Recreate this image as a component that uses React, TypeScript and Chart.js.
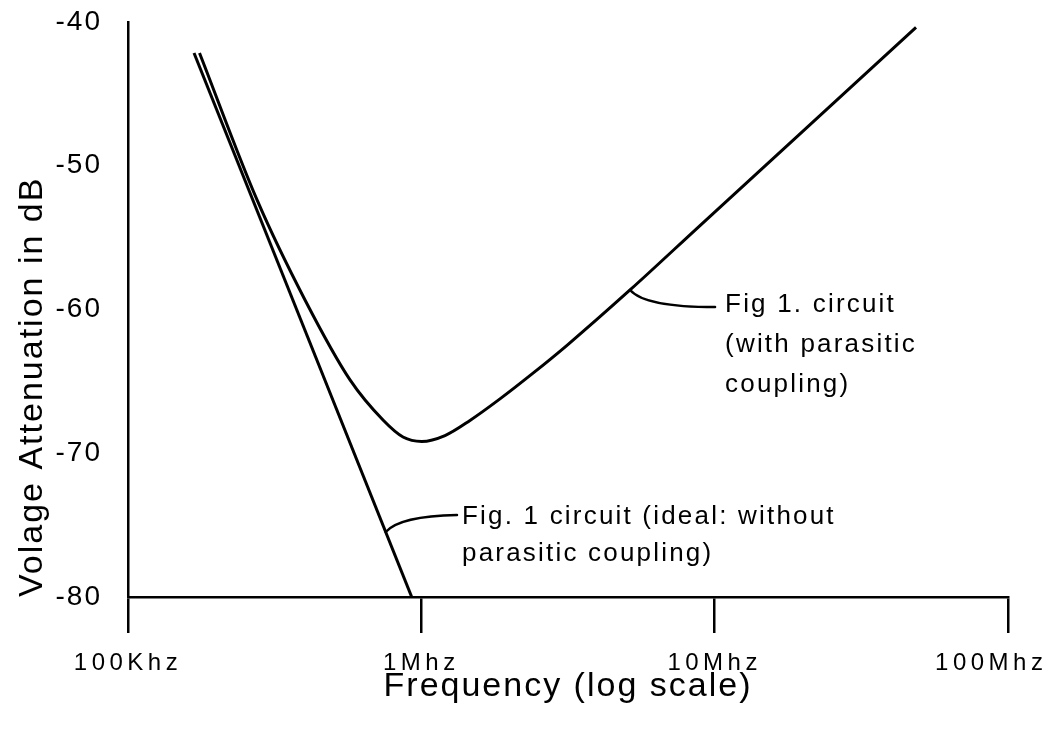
import { useEffect, useRef } from 'react';
import { Chart, registerables } from 'chart.js';

Chart.register(...registerables);

const FONT = '"Liberation Sans", Arial, Helvetica, sans-serif';

// Axis ticks
const xTickValues = [0.1, 1, 10, 100]; // MHz
const xTickLabels = ['100Khz', '1Mhz', '10Mhz', '100Mhz'];
const yMin = -80;
const yMax = -40;
const yStep = 10;

// Fig 1 circuit with parasitic coupling (frequency in MHz, attenuation in dB)
const parasiticFreqMHz = [0.1753, 0.2754, 0.4013, 0.5714, 0.7402, 0.866, 1.003, 1.204, 1.465, 1.854, 2.403, 3.138, 5.146, 8.913, 19.54, 48.58];
const parasiticDb = [-42.16, -52.38, -59.34, -64.9, -67.69, -68.87, -69.18, -68.77, -67.72, -66.22, -64.43, -62.49, -58.64, -54.16, -47.79, -40.37];

// Fig 1 circuit ideal (without parasitic coupling)
const idealFreqMHz = [0.1679, 0.9273];
const idealDb = [-42.16, -80];

// Annotation texts
const parasiticLabel = ['Fig 1. circuit', '(with parasitic', 'coupling)'];
const idealLabel = ['Fig. 1 circuit (ideal: without', 'parasitic coupling)'];

// Annotation placement (data coordinates: [MHz, dB])
const annotations = [
  {
    lines: parasiticLabel,
    anchor: [5.146, -58.64],
    control: [5.787, -59.83],
    end: [10.03, -59.83],
    text: [10.85, -59.69],
    gap: 40,
  },
  {
    lines: idealLabel,
    anchor: [0.756, -75.48],
    control: [0.846, -74.37],
    end: [1.323, -74.3],
    text: [1.376, -74.43],
    gap: 37,
  },
];

const spacingPlugin = {
  id: 'letterSpacing',
  beforeDraw(chart: any) {
    chart.ctx.letterSpacing = '2px'; // axis titles and y tick labels
  },
  afterDatasetsDraw(chart: any) {
    chart.ctx.letterSpacing = '4.5px'; // x tick labels (drawn on a later layer)
  },
  afterDraw(chart: any) {
    chart.ctx.letterSpacing = '0px';
  },
};

const annotationPlugin = {
  id: 'annotations',
  afterDraw(chart: any) {
    const { ctx, scales } = chart;
    const x = scales.x;
    const y = scales.y;
    ctx.save();
    ctx.strokeStyle = '#000';
    ctx.fillStyle = '#000';
    ctx.lineWidth = 2.5;
    ctx.lineCap = 'round';
    ctx.font = `26px ${FONT}`;
    ctx.letterSpacing = '2.2px';
    ctx.textBaseline = 'middle';
    ctx.textAlign = 'left';
    for (const a of annotations) {
      const ax = x.getPixelForValue(a.anchor[0]);
      const ay = y.getPixelForValue(a.anchor[1]);
      const cx = x.getPixelForValue(a.control[0]);
      const cy = y.getPixelForValue(a.control[1]);
      const ex = x.getPixelForValue(a.end[0]);
      const ey = y.getPixelForValue(a.end[1]);
      ctx.beginPath();
      ctx.moveTo(ax, ay);
      ctx.quadraticCurveTo(cx, cy, ex, ey);
      ctx.stroke();
      const tx = x.getPixelForValue(a.text[0]);
      const ty = y.getPixelForValue(a.text[1]);
      a.lines.forEach((line: string, i: number) => {
        ctx.fillText(line, tx, ty + i * a.gap);
      });
    }
    ctx.restore();
  },
};

export default function App() {
  const canvasRef = useRef<HTMLCanvasElement | null>(null);

  useEffect(() => {
    if (!canvasRef.current) return;
    const chart = new Chart(canvasRef.current, {
      type: 'scatter',
      data: {
        datasets: [
          {
            label: 'Fig 1. circuit (with parasitic coupling)',
            data: parasiticFreqMHz.map((f, i) => ({ x: f, y: parasiticDb[i] })),
            showLine: true,
            borderColor: '#000',
            borderWidth: 3,
            pointRadius: 0,
            cubicInterpolationMode: 'monotone',
          },
          {
            label: 'Fig. 1 circuit (ideal: without parasitic coupling)',
            data: idealFreqMHz.map((f, i) => ({ x: f, y: idealDb[i] })),
            showLine: true,
            borderColor: '#000',
            borderWidth: 3,
            pointRadius: 0,
          },
        ],
      },
      options: {
        animation: false,
        responsive: true,
        maintainAspectRatio: false,
        layout: { padding: { top: 22, right: 40, left: 0, bottom: 0 } },
        plugins: {
          legend: { display: false },
          tooltip: { enabled: false },
        },
        scales: {
          x: {
            type: 'logarithmic',
            min: 0.1,
            max: 100,
            afterBuildTicks: (scale: any) => {
              scale.ticks = xTickValues.map((v) => ({ value: v }));
            },
            afterFit: (scale: any) => {
              scale.height = 132;
              scale.paddingLeft = 0;
              scale.paddingRight = 0;
            },
            ticks: {
              z: 1,
              color: '#000',
              font: { family: FONT, size: 24 },
              padding: 16,
              maxRotation: 0,
              autoSkip: false,
              callback: (value: any) => {
                const idx = xTickValues.findIndex((v) => Math.abs(v - Number(value)) < 1e-9);
                if (idx < 0) return '';
                // the last label sits left of its tick so it stays inside the picture
                return idx === xTickLabels.length - 1 ? xTickLabels[idx] + '\u00a0\u00a0\u00a0' : xTickLabels[idx];
              },
            },
            grid: {
              drawOnChartArea: false,
              drawTicks: true,
              tickLength: 36,
              color: '#000',
              lineWidth: 2.5,
            },
            border: { display: true, color: '#000', width: 2.5 },
            title: {
              display: true,
              text: 'Frequency (log scale)',
              color: '#000',
              font: { family: FONT, size: 34 },
              padding: { top: 0, bottom: 22 },
            },
          },
          y: {
            type: 'linear',
            min: yMin,
            max: yMax,
            afterFit: (scale: any) => {
              scale.width = 128;
              scale.paddingTop = 0;
              scale.paddingBottom = 0;
            },
            ticks: {
              stepSize: yStep,
              color: '#000',
              font: { family: FONT, size: 28 },
              padding: 26,
            },
            grid: {
              drawOnChartArea: false,
              drawTicks: false,
            },
            border: { display: true, color: '#000', width: 2.5 },
            title: {
              display: true,
              text: 'Volage Attenuation in dB',
              align: 'start',
              color: '#000',
              font: { family: FONT, size: 34 },
              padding: { top: 12, bottom: 0 },
            },
          },
        },
      },
      plugins: [spacingPlugin, annotationPlugin],
    } as any);
    return () => chart.destroy();
  }, []);

  return (
    <div style={{ position: 'fixed', left: 0, top: 0, width: 1048, height: 729, background: '#fff' }}>
      <canvas ref={canvasRef} />
    </div>
  );
}
